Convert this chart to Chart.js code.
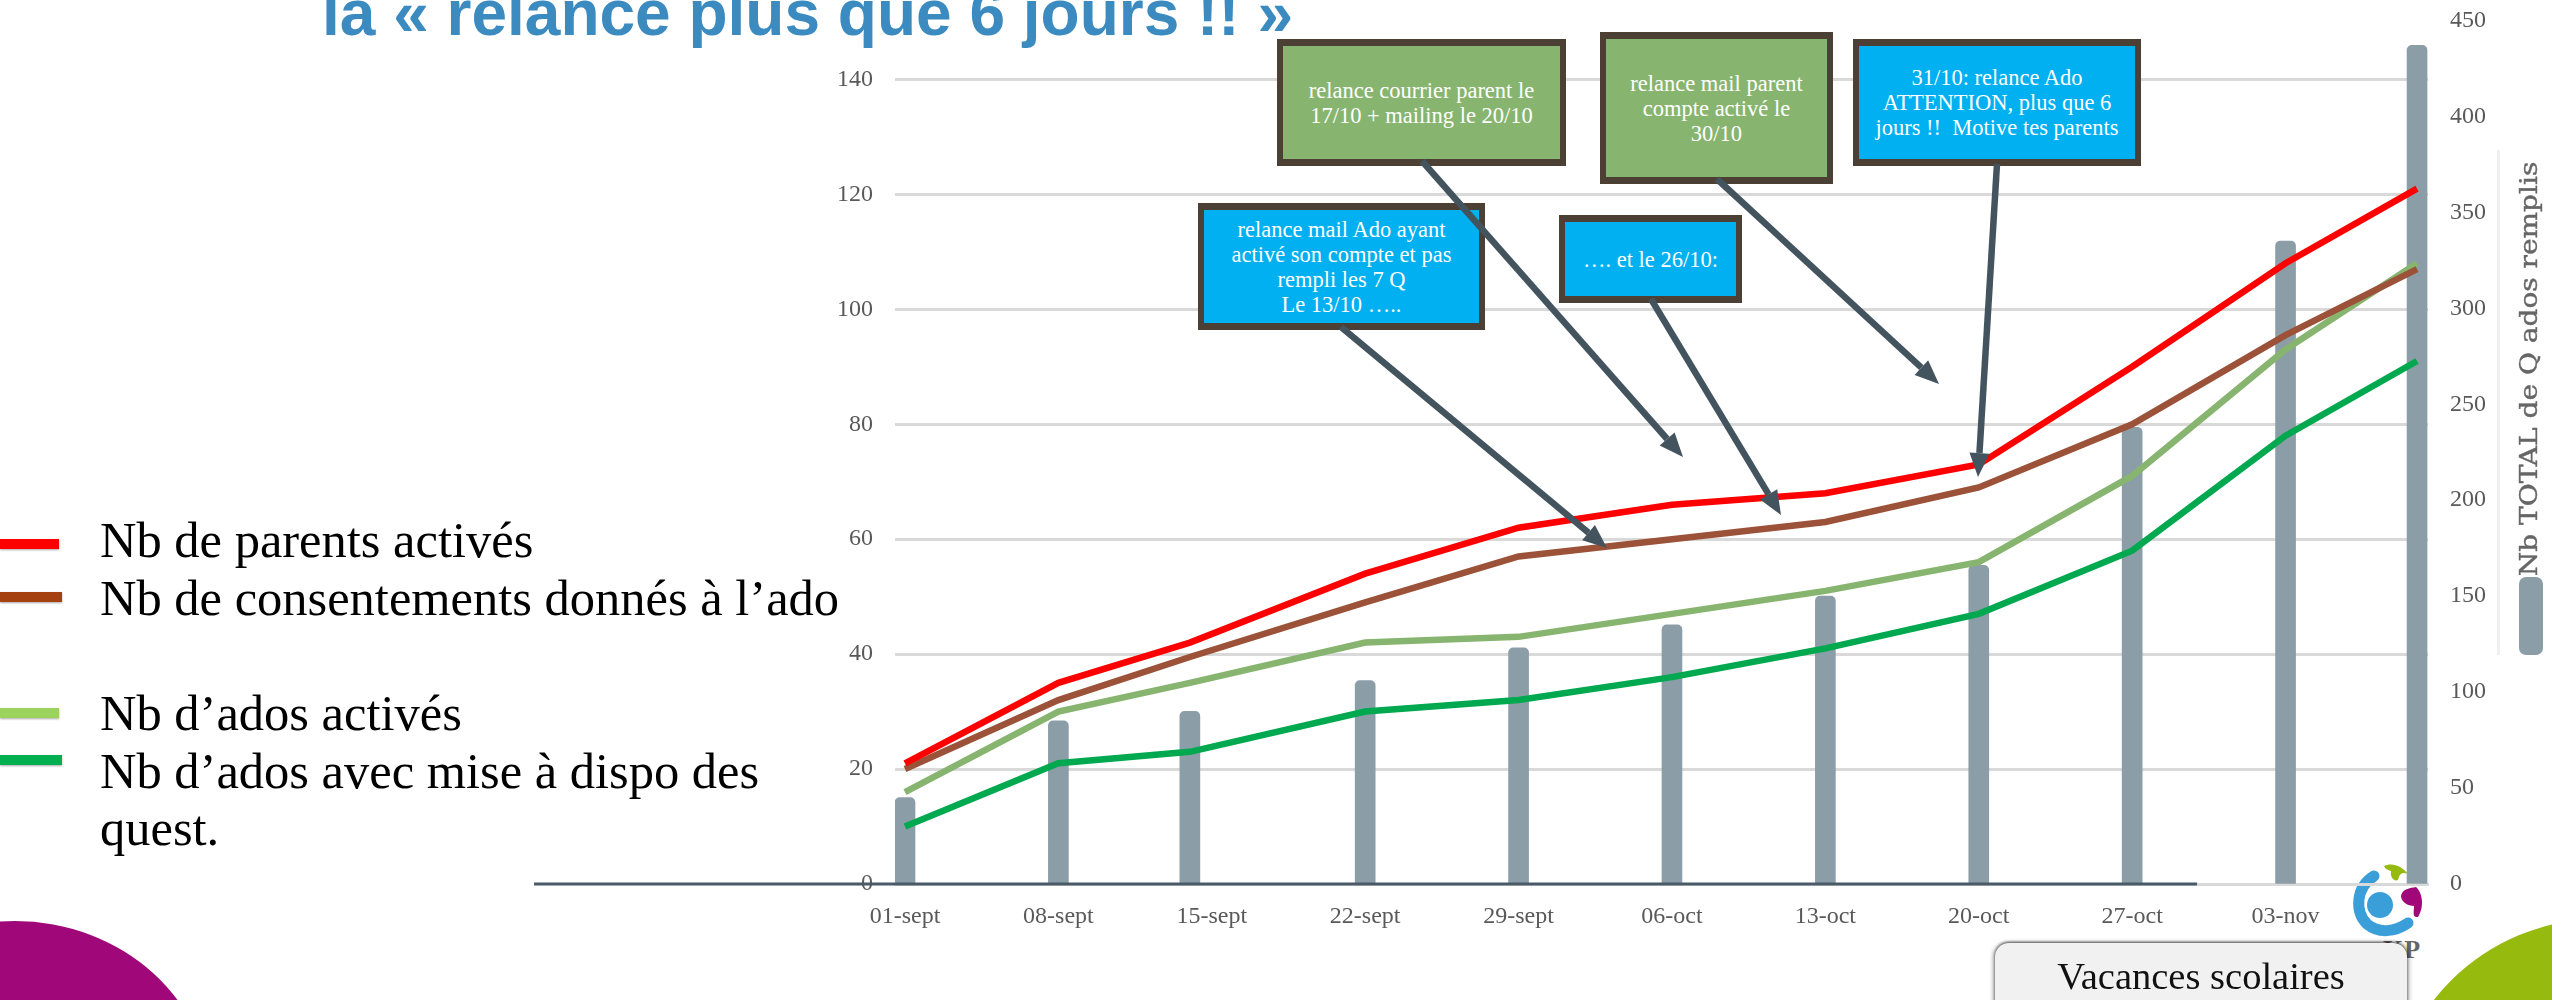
<!DOCTYPE html>
<html lang="fr">
<head>
<meta charset="utf-8">
<title>Relance plus que 6 jours</title>
<style>
html,body{margin:0;padding:0;background:#fff;width:2552px;height:1000px;overflow:hidden}
#stage{position:relative;width:2552px;height:1000px;overflow:hidden;font-family:"Liberation Serif",serif}
#stage>*{position:absolute}
#under{left:0;top:0;z-index:1}
#chartWrap{left:0;top:-16px;width:2552px;height:1016px;z-index:2}
#over{left:0;top:0;z-index:3}
#annot{left:0;top:0;z-index:5;pointer-events:none}
.title{left:322px;top:-27px;font:bold 64px "Liberation Sans",sans-serif;color:#3b8bc0;white-space:nowrap;z-index:4;line-height:80px}
.legend{left:100px;font-size:50.5px;line-height:58px;color:#000;white-space:nowrap;z-index:4}
.swatch{left:0;height:10px;z-index:4;box-shadow:0 1px 2px rgba(0,0,0,.35)}
.box{box-sizing:border-box;border:solid #4c4035;border-width:7px 6px;display:flex;align-items:center;justify-content:center;text-align:center;color:#fff;font-size:22.5px;line-height:25px;white-space:pre-wrap;z-index:4}
.vac{left:1995px;top:943px;width:412px;height:90px;background:#f1f1f1;border-radius:14px;box-shadow:0 -1px 3px rgba(0,0,0,.55),2px 0 4px rgba(0,0,0,.3),-2px 0 4px rgba(0,0,0,.3);z-index:4;text-align:center;font-size:38.5px;line-height:66px;color:#111}
.kp{left:2383px;top:935px;font:bold 26px "Liberation Serif",serif;color:#666;z-index:1;letter-spacing:1px}
.axT{left:2529px;top:369px;transform:translate(-50%,-50%) rotate(-90deg) scaleX(1.167);font:24px "DejaVu Serif",serif;color:#666;-webkit-text-stroke:.4px #666;white-space:nowrap;z-index:4}
.rule{left:2497px;top:150px;width:3px;height:505px;background:#efefef;z-index:4}
.pill{left:2519px;top:577px;width:24px;height:78px;background:#8b9da7;border-radius:7px;z-index:4}
</style>
</head>
<body>
<div id="stage">
  <svg id="under" width="2552" height="1000" viewBox="0 0 2552 1000">
    <ellipse cx="15" cy="1100" rx="196" ry="179" fill="#a0087a"/>
    <circle cx="2600" cy="1130" r="211" fill="#97ba0e"/>
    <g transform="translate(3,0)">
    <path d="M2371 876 C2352 888 2352 912 2364 924 C2376 934 2392 932 2405 923" fill="none" stroke="#3a9fd8" stroke-width="11" stroke-linecap="round"/>
    <circle cx="2377" cy="905" r="13" fill="#3a9fd8"/>
    </g>
    <path d="M2384 866 C2392 862 2402 866 2408 874 C2402 872 2400 873 2398 880 C2393 882 2390 876 2391 871 C2388 870 2385 869 2384 866Z" fill="#97ba0e"/>
    <path d="M2416 887 C2422 892 2425 906 2418 917 C2412 918 2414 912 2414 906 C2408 906 2401 902 2401 896 C2402 889 2410 888 2416 887Z" fill="#a0087a"/>
  </svg>
  <div class="kp">KP</div>
  <div id="chartWrap"><canvas id="c" width="2552" height="1016"></canvas></div>
  <svg id="over" width="2552" height="1000" viewBox="0 0 2552 1000">
    <line x1="534" y1="884" x2="2197" y2="884" stroke="#4a5a68" stroke-width="3"/>
  </svg>
  <div class="title">la « relance plus que 6 jours !! »</div>
  <div class="rule"></div>
  <div class="axT">Nb TOTAL de Q ados remplis</div>
  <div class="pill"></div>
  <div class="vac">Vacances scolaires</div>
  <svg id="annot" width="2552" height="1000" viewBox="0 0 2552 1000"></svg>
</div>
<script src="https://cdn.jsdelivr.net/npm/chart.js@4/dist/chart.umd.min.js"></script>
<script>
// ---- data ----
const tickDays   = [0, 7, 14, 21, 28, 35, 42, 49, 56, 63];
const tickLabels = ['01-sept','08-sept','15-sept','22-sept','29-sept','06-oct','13-oct','20-oct','27-oct','03-nov'];
const pointDays  = [0, 7, 13, 21, 28, 35, 42, 49, 56, 63, 69];
const parents      = [21, 35, 42, 54, 62, 66, 68, 73, 90, 108, 121];
const consentements= [20, 32, 39.5, 49, 57, 60, 63, 69, 80, 95.5, 107];
const adosActives  = [16, 30, 35, 42, 43, 47, 51, 56, 71, 93, 108];
const adosDispo    = [10, 21, 23, 30, 32, 36, 41, 47, 58, 78, 91];
const totalQ       = [45, 85, 90, 106, 123, 135, 150, 166, 238, 335, 437];

const toPts = v => pointDays.map((d, i) => ({x: d, y: v[i]}));
const tickFont = {family: '"Liberation Serif", serif', size: 24};
const lineDs = (label, data, color) => ({type: 'line', label, data: toPts(data), yAxisID: 'y',
  borderColor: color, backgroundColor: color, borderWidth: 6.5, pointRadius: 0, tension: 0, order: 1,
  borderJoinStyle: 'miter', borderCapStyle: 'butt'});

new Chart(document.getElementById('c'), {
  type: 'bar',
  data: {datasets: [
    lineDs('Nb de parents activés', parents, '#ff0000'),
    lineDs('Nb de consentements donnés à l’ado', consentements, '#9c5238'),
    lineDs('Nb d’ados activés', adosActives, '#87b56f'),
    lineDs('Nb d’ados avec mise à dispo des quest.', adosDispo, '#00a94f'),
    {type: 'bar', label: 'Nb TOTAL de Q ados remplis', data: toPts(totalQ), yAxisID: 'y1',
     backgroundColor: '#8b9da7', barThickness: 20, order: 2,
     borderRadius: {topLeft: 5, topRight: 5, bottomLeft: 0, bottomRight: 0}, borderSkipped: false}
  ]},
  options: {
    responsive: false, animation: false, events: [],
    layout: {padding: {top: 4, left: 0, right: 0, bottom: 0}},
    plugins: {legend: {display: false}, tooltip: {enabled: false}, title: {display: false}},
    scales: {
      x: {type: 'linear', offset: false, min: -0.456, max: 69.5,
        grid: {display: false, offset: false},
        border: {display: true, color: '#d9d9d9', width: 3},
        afterBuildTicks: s => { s.ticks = tickDays.map(v => ({value: v})); },
        afterFit: s => { s.height = 116; },
        ticks: {autoSkip: false, maxRotation: 0, minRotation: 0, padding: 10, color: '#595959', font: tickFont,
          callback: v => tickLabels[tickDays.indexOf(v)]}},
      y: {type: 'linear', position: 'left', min: 0, max: 150.26,
        grid: {color: '#d9d9d9', lineWidth: 3, drawTicks: false},
        border: {display: false},
        afterBuildTicks: s => { s.ticks = s.ticks.filter(t => t.value <= 140); },
        afterFit: s => { s.width = 895; },
        ticks: {stepSize: 20, padding: 22, color: '#595959', font: tickFont}},
      y1: {type: 'linear', position: 'right', min: 0, max: 450,
        grid: {drawOnChartArea: false, drawTicks: false},
        border: {display: false},
        afterFit: s => { s.width = 124; },
        ticks: {stepSize: 50, padding: 22, color: '#595959', font: tickFont}}
    }
  }
});

// ---- slide annotations (drawn over the chart) ----
const stage = document.getElementById('stage');
const legendRows = [
  ['Nb de parents activés', 557, '#ff0000', 539, 59],
  ['Nb de consentements donnés à l’ado', 615, '#a5410e', 592, 62],
  ['Nb d’ados activés', 730, '#9bd35c', 708, 59],
  ['Nb d’ados avec mise à dispo des', 788, '#00b050', 755, 62],
  ['quest.', 845, null, 0, 0]
];
legendRows.forEach(([t, base, col, sy, sw]) => {
  const d = document.createElement('div');
  d.className = 'legend'; d.textContent = t; d.style.top = (base - 46) + 'px';
  stage.appendChild(d);
  if (col) {
    const s = document.createElement('div');
    s.className = 'swatch';
    s.style.cssText = `top:${sy}px;width:${sw}px;background:${col}`;
    stage.appendChild(s);
  }
});
const boxes = [
  [1277, 39, 289, 127, '#87b56f', 'relance courrier parent le\n17/10 + mailing le 20/10'],
  [1600, 32, 233, 152, '#87b56f', 'relance mail parent\ncompte activé le\n30/10'],
  [1853, 39, 288, 127, '#00b0f0', '31/10: relance Ado\nATTENTION, plus que 6\njours !!  Motive tes parents'],
  [1198, 203, 287, 127, '#00b0f0', 'relance mail Ado ayant\nactivé son compte et pas\nrempli les 7 Q\nLe 13/10 …..'],
  [1559, 215, 183, 88, '#00b0f0', '…. et le 26/10:']
];
boxes.forEach(([x, y, w, h, bg, t]) => {
  const d = document.createElement('div');
  d.className = 'box'; d.textContent = t;
  d.style.cssText = `left:${x}px;top:${y}px;width:${w}px;height:${h}px;background:${bg}`;
  stage.appendChild(d);
});
const arrows = [
  [1422, 161, 1683, 457],
  [1717, 179, 1939, 384],
  [1997, 164, 1978, 477],
  [1341, 327, 1607, 548],
  [1651, 299, 1781, 515]
];
const annot = document.getElementById('annot');
const NS = 'http://www.w3.org/2000/svg';
arrows.forEach(([x1, y1, x2, y2]) => {
  const a = Math.atan2(y2 - y1, x2 - x1), L = 24, W = 10;
  const bx = x2 - L * Math.cos(a), by = y2 - L * Math.sin(a);
  const ln = document.createElementNS(NS, 'line');
  ln.setAttribute('x1', x1); ln.setAttribute('y1', y1); ln.setAttribute('x2', bx); ln.setAttribute('y2', by);
  ln.setAttribute('stroke', '#44545f'); ln.setAttribute('stroke-width', 6.5);
  annot.appendChild(ln);
  const nx = -Math.sin(a) * W, ny = Math.cos(a) * W;
  const p = document.createElementNS(NS, 'polygon');
  p.setAttribute('points', `${x2},${y2} ${bx + nx},${by + ny} ${bx - nx},${by - ny}`);
  p.setAttribute('fill', '#44545f');
  annot.appendChild(p);
});
</script>
</body>
</html>
